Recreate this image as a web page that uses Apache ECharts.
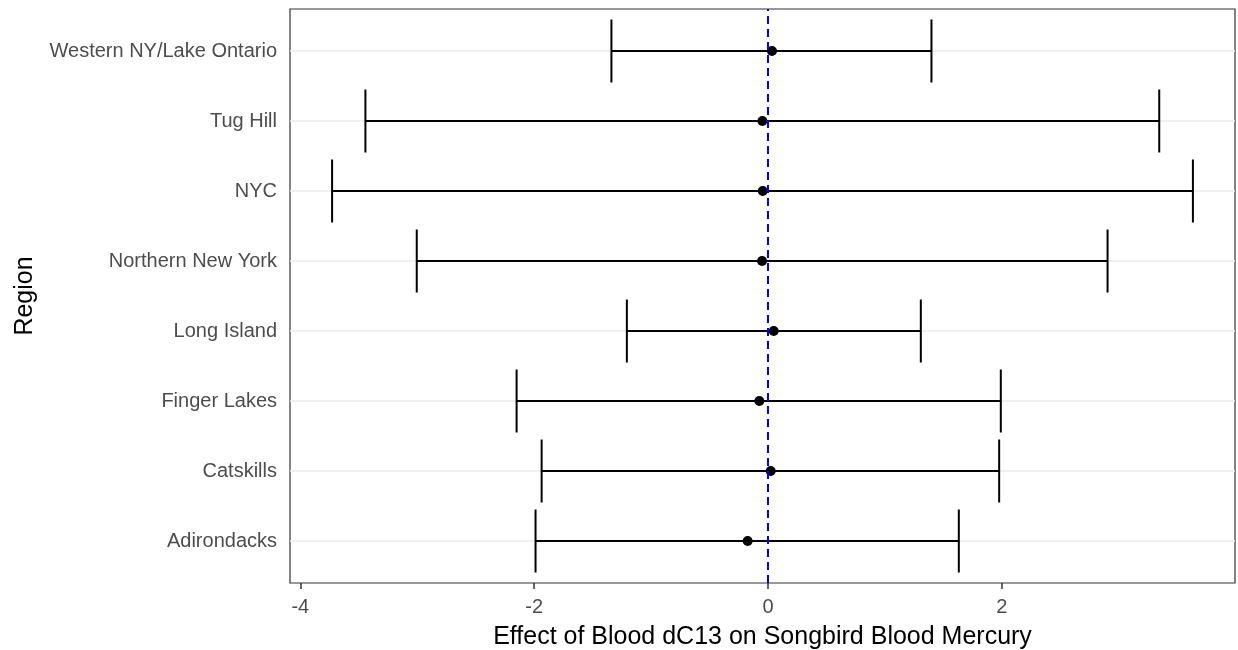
<!DOCTYPE html>
<html>
<head>
<meta charset="utf-8">
<script src="https://cdn.jsdelivr.net/npm/echarts@6/dist/echarts.min.js"></script>
<style>
  html, body { margin: 0; padding: 0; background: #fff; }
  #main { width: 1238px; height: 650px; }
</style>
</head>
<body>
<div id="main"></div>
<script>
// regions, bottom to top (y position 1..8)
const regions = ['Adirondacks', 'Catskills', 'Finger Lakes', 'Long Island',
  'Northern New York', 'NYC', 'Tug Hill', 'Western NY/Lake Ontario'];
const estimate = [-0.174, 0.023, -0.074, 0.049, -0.051, -0.045, -0.048, 0.034];
const lower = [-1.988, -1.936, -2.150, -1.207, -3.004, -3.728, -3.443, -1.339];
const upper = [1.632, 1.977, 1.991, 1.307, 2.904, 3.634, 3.346, 1.398];
const xTicks = [-4, -2, 0, 2];
const yPos = regions.map((r, i) => i + 1);

let myChart = echarts.init(document.getElementById('main'));

const labelFont = 'Liberation Sans, Arial, sans-serif';

let option = {
  animation: false,
  backgroundColor: '#fff',
  grid: {
    left: 290, right: 3, top: 9, bottom: 67,
    show: true, borderColor: '#333333', borderWidth: 1.2,
    containLabel: false, outerBoundsMode: 'none'
  },
  xAxis: {
    type: 'value',
    min: -4.088, max: 3.994,
    name: 'Effect of Blood dC13 on Songbird Blood Mercury',
    nameLocation: 'middle',
    nameGap: 42,
    nameTextStyle: { color: '#000', fontSize: 25, fontFamily: labelFont },
    axisLine: { show: false },
    axisTick: { show: true, customValues: xTicks, length: 6, lineStyle: { color: '#333333', width: 1.5 } },
    axisLabel: { customValues: xTicks, color: '#4d4d4d', fontSize: 20, fontFamily: labelFont, margin: 14 },
    splitLine: { show: false }
  },
  yAxis: {
    type: 'value',
    min: 0.4, max: 8.6,
    name: 'Region',
    nameLocation: 'middle',
    nameGap: 252,
    nameTextStyle: { color: '#000', fontSize: 25, fontFamily: labelFont },
    axisLine: { show: false },
    axisTick: { show: true, customValues: yPos, length: 6, lineStyle: { color: '#333333', width: 1.5 } },
    axisLabel: {
      customValues: yPos, color: '#4d4d4d', fontSize: 20, fontFamily: labelFont, margin: 13,
      formatter: v => regions[Math.round(v) - 1] || ''
    },
    splitLine: { show: false }
  },
  series: [
    {
      // horizontal major gridlines
      type: 'custom',
      z: 1,
      silent: true,
      data: yPos.map(y => [0, y]),
      encode: { x: 0, y: 1 },
      renderItem: function (params, api) {
        const cs = params.coordSys;
        const py = api.coord([0, api.value(1)])[1];
        return {
          type: 'line',
          shape: { x1: cs.x, y1: py, x2: cs.x + cs.width, y2: py },
          style: { stroke: '#ebebeb', lineWidth: 1.5 }
        };
      }
    },
    {
      // error bars
      type: 'custom',
      z: 2,
      data: yPos.map((y, i) => [lower[i], upper[i], y]),
      encode: { x: [0, 1], y: 2 },
      renderItem: function (params, api) {
        const y = api.value(2);
        const lo = api.coord([api.value(0), y]);
        const hi = api.coord([api.value(1), y]);
        const top = api.coord([0, y + 0.45])[1];
        const bot = api.coord([0, y - 0.45])[1];
        const st = { stroke: '#000', lineWidth: 2 };
        return {
          type: 'group',
          children: [
            { type: 'line', shape: { x1: lo[0], y1: lo[1], x2: hi[0], y2: hi[1] }, style: st },
            { type: 'line', shape: { x1: lo[0], y1: top, x2: lo[0], y2: bot }, style: st },
            { type: 'line', shape: { x1: hi[0], y1: top, x2: hi[0], y2: bot }, style: st }
          ]
        };
      }
    },
    {
      type: 'scatter',
      z: 4,
      symbolSize: 10,
      itemStyle: { color: '#000', opacity: 1 },
      data: yPos.map((y, i) => [estimate[i], y]),
      markLine: {
        silent: true,
        symbol: 'none',
        label: { show: false },
        lineStyle: { color: '#0000ff', width: 2, type: [8, 5], opacity: 1 },
        data: [{ xAxis: 0 }]
      }
    }
  ]
};

myChart.setOption(option);
</script>
</body>
</html>
